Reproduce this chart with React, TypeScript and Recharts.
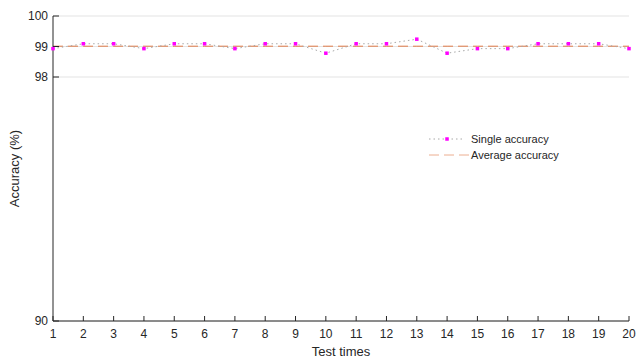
import React from "react";
import { LineChart, Line, XAxis, YAxis, CartesianGrid, Legend, Label } from "recharts";

const testTimes = [1, 2, 3, 4, 5, 6, 7, 8, 9, 10, 11, 12, 13, 14, 15, 16, 17, 18, 19, 20];
const singleAccuracy = [98.93, 99.09, 99.09, 98.93, 99.09, 99.09, 98.93, 99.09, 99.09, 98.78, 99.09, 99.09, 99.24, 98.78, 98.93, 98.93, 99.09, 99.09, 99.09, 98.93];
const averageAccuracy = [99.01, 99.01, 99.01, 99.01, 99.01, 99.01, 99.01, 99.01, 99.01, 99.01, 99.01, 99.01, 99.01, 99.01, 99.01, 99.01, 99.01, 99.01, 99.01, 99.01];
const yTicks = [90, 98, 99, 100];
const xTicks = testTimes;
const seriesNames = ["Single accuracy", "Average accuracy"];

const data = testTimes.map((t, i) => ({ test: t, single: singleAccuracy[i], avg: averageAccuracy[i] }));

const FONT = "'Liberation Sans', Arial, sans-serif";
const AXIS = "#262626";
const SINGLE = "#a8a8a8";
const AVG = "#e07a48";
const MARK = "#ff00ff";

const SquareDot = (props: any) => {
  const { cx, cy } = props;
  if (cx == null || cy == null) return null;
  return <rect x={cx - 1.75} y={cy - 1.75} width={3.5} height={3.5} fill={MARK} />;
};

const LegendContent = () => (
  <div style={{ fontFamily: FONT, fontSize: 11, color: AXIS, lineHeight: "16px" }}>
    <div style={{ display: "flex", alignItems: "center" }}>
      <svg width={40} height={16}>
        <line x1={0} y1={8} x2={36} y2={8} stroke={SINGLE} strokeDasharray="1.5 3" />
        <rect x={16.25} y={6.25} width={3.5} height={3.5} fill={MARK} />
      </svg>
      <span style={{ marginLeft: 2 }}>{seriesNames[0]}</span>
    </div>
    <div style={{ display: "flex", alignItems: "center" }}>
      <svg width={40} height={16}>
        <line x1={0} y1={8} x2={40} y2={8} stroke={AVG} strokeOpacity={0.6} strokeDasharray="10 5" />
      </svg>
      <span style={{ marginLeft: 2 }}>{seriesNames[1]}</span>
    </div>
  </div>
);

export default function App() {
  return (
    <div style={{ position: "absolute", left: 0, top: 0, background: "#fff" }}>
      <LineChart width={636} height={358} data={data} margin={{ top: 16, right: 7, left: 0, bottom: 0 }}>
        <CartesianGrid horizontal={true} vertical={false} stroke="#e3e3e3" />
        <XAxis
          dataKey="test"
          type="number"
          domain={[1, 20]}
          ticks={xTicks}
          interval={0}
          height={37}
          stroke={AXIS}
          tickSize={-5}
          tickMargin={13}
          tick={{ fontFamily: FONT, fontSize: 12, fill: AXIS }}
        >
          <Label value="Test times" position="insideBottom" offset={2} style={{ fontFamily: FONT, fontSize: 13, fill: AXIS }} />
        </XAxis>
        <YAxis
          type="number"
          domain={[90, 100]}
          ticks={yTicks}
          interval={0}
          width={53}
          stroke={AXIS}
          tickSize={-6}
          tickMargin={11}
          tick={{ fontFamily: FONT, fontSize: 12, fill: AXIS }}
        >
          <Label value="Accuracy (%)" angle={-90} position="center" dx={-12} style={{ fontFamily: FONT, fontSize: 13, fill: AXIS, textAnchor: "middle" }} />
        </YAxis>
        <Legend
          layout="horizontal"
          verticalAlign="middle"
          align="center"
          content={<LegendContent />}
          wrapperStyle={{ left: 429, top: 131, width: 180 }}
        />
        <Line
          dataKey="avg"
          stroke={AVG}
          strokeWidth={1}
          strokeDasharray="10 5"
          dot={false}
          activeDot={false}
          isAnimationActive={false}
        />
        <Line
          dataKey="single"
          stroke={SINGLE}
          strokeWidth={1}
          strokeDasharray="1.5 3"
          dot={<SquareDot />}
          activeDot={false}
          isAnimationActive={false}
        />
      </LineChart>
    </div>
  );
}
